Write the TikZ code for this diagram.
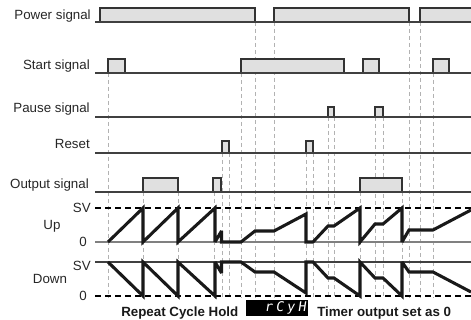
\documentclass[tikz,border=0pt]{standalone}
\usepackage{fontspec}
\setmainfont{Liberation Sans}
\newfontfamily\segfont[FakeSlant=0.15]{DejaVu Sans Mono}
\usetikzlibrary{positioning}

\begin{document}
\begin{tikzpicture}[
		x=0.75pt,y=-0.75pt,
		node distance=3pt,
		lbl/.style={inner sep=0pt,font=\fontsize{10}{12}\selectfont,text=black!85},
		caption/.style={inner sep=0pt,font=\fontsize{10}{12}\selectfont\bfseries,text=black!90},
		pulse/.style={draw=black!80,fill=black!12,line width=0.9pt},
		sigline/.style={draw=black!75,line width=0.8pt},
		guide/.style={draw=black!30,line width=0.6pt,dash pattern=on 3pt off 2.25pt},
		level/.style={draw=black,line width=0.8pt,dash pattern=on 4.5pt off 3pt},
		wave/.style={draw=black!90,line width=2.3pt,line join=miter,miter limit=3}
		]
		\useasboundingbox (0,0) rectangle (471,320);
		% guide lines
		\draw[guide] (255,22) -- (255,298) (274,22) -- (274,298) (409,22) -- (409,298) (420,22) -- (420,298);
		\draw[guide] (108,73) -- (108,298) (241,73) -- (241,298) (433,73) -- (433,298);
		\draw[guide] (328,117) -- (328,298) (334,117) -- (334,298) (375,117) -- (375,298) (383,117) -- (383,298);
		\draw[guide] (222,153) -- (222,298) (229,153) -- (229,298) (306,153) -- (306,298) (313,153) -- (313,298);
		\draw[guide] (143,192) -- (143,298) (178,192) -- (178,298) (214,192) -- (214,298) (360,192) -- (360,298) (402,192) -- (402,298);
		% power
		\draw[pulse] (100,22) rectangle (255,8);
		\draw[pulse] (274,22) rectangle (409,8);
		\fill[black!12] (420,22) rectangle (471,8);
		\draw[pulse,fill=none] (420,22) |- (471,8);
		\draw[sigline] (95,22) -- (471,22);
		% start
		\draw[pulse] (108,73) rectangle (125,59);
		\draw[pulse] (241,73) rectangle (344,59);
		\draw[pulse] (363,73) rectangle (379,59);
		\draw[pulse] (433,73) rectangle (449,59);
		\draw[sigline] (95,73) -- (471,73);
		% pause
		\draw[pulse] (328,117) rectangle (334,107);
		\draw[pulse] (375,117) rectangle (383,107);
		\draw[sigline] (95,117) -- (471,117);
		% reset
		\draw[pulse] (222,153) rectangle (229,141);
		\draw[pulse] (306,153) rectangle (313,141);
		\draw[sigline] (95,153) -- (471,153);
		% output
		\draw[pulse] (143,192) rectangle (178,178);
		\draw[pulse] (213,192) rectangle (221,178);
		\draw[pulse] (360,192) rectangle (402,178);
		\draw[sigline] (95,192) -- (471,192);
		% levels
		\coordinate (upsv) at (95,208);
		\coordinate (upzero) at (95,242);
		\coordinate (dnsv) at (95,262);
		\coordinate (dnzero) at (95,296);
		\draw[level] (upsv) -- (471,208);
		\draw[black!50,line width=1.2pt] (upzero) -- (471,242);
		\draw[sigline] (dnsv) -- (471,262);
		\draw[level] (dnzero) -- (471,296);
		% counting up
		\draw[wave] (108,242) -- (143,208) -- (143,242) -- (178,208) -- (178,242) -- (215,208) -- (215,242)
			-- (221.5,231) -- (221.5,242) -- (241,242) -- (255,231) -- (274,231) -- (306,214) -- (306,242)
			-- (313,242) -- (328,226) -- (334,226) -- (360,208) -- (360,242) -- (375,224) -- (383,224)
			-- (402,208) -- (402,242) -- (409,230) -- (433,230) -- (471,210);
		% counting down
		\draw[wave] (108,262) -- (143,296) -- (143,262) -- (178,296) -- (178,262) -- (215,296) -- (215,262)
			-- (221.5,273) -- (221.5,262) -- (241,262) -- (255,272) -- (274,272) -- (306,293) -- (306,262)
			-- (313,262) -- (328,278) -- (334,278) -- (360,296) -- (360,262) -- (375,278) -- (383,278)
			-- (402,296) -- (402,262) -- (409,272) -- (433,272) -- (471,292);
		% labels
		\node[lbl,anchor=base east] (power) at (91,20) {Power signal};
		\node[lbl,anchor=base east] (start) at (90,70) {Start signal};
		\node[lbl,anchor=base east] (pause) at (90,113) {Pause signal};
		\node[lbl,anchor=base east] (reset) at (90,149) {Reset};
		\node[lbl,anchor=base east] (output) at (89,189) {Output signal};
		\node[lbl,left=3pt of upsv] (upsvlbl) {SV};
		\node[lbl,left=6pt of upzero] (upzerolbl) {0};
		\node[lbl,left=3pt of dnsv,yshift=-3pt] (dnsvlbl) {SV};
		\node[lbl,left=6pt of dnzero] (dnzerolbl) {0};
		\node[lbl,anchor=base] (up) at (52,230) {Up};
		\node[lbl,anchor=base] (down) at (50,283) {Down};
		% bottom line
		\node[caption,anchor=base west] (repeat) at (121,316) {Repeat Cycle Hold};
		\node[fill=black,text=white,inner sep=0pt,minimum height=12pt,text width=46.5pt,align=right,
			font=\segfont\fontsize{10}{10}\selectfont] (disp) at (277,308) {r\kern2.4pt C\kern2.4pt y\kern2.4pt H\kern1.5pt};
		\node[caption,anchor=base west] (timer) at (317,316) {Timer output set as 0};
\end{tikzpicture}
\end{document}
